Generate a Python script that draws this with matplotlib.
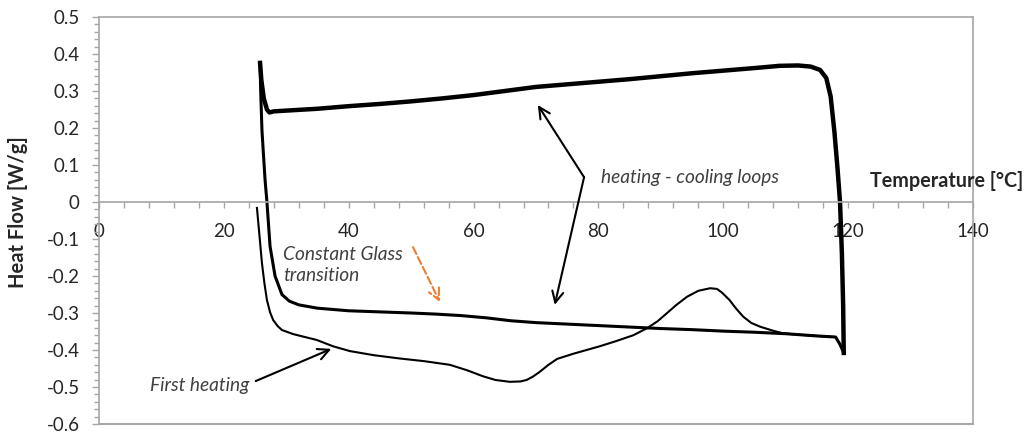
import matplotlib.pyplot as plt
from matplotlib.ticker import MultipleLocator, FuncFormatter

plt.rcParams['font.family'] = ['Lato', 'DejaVu Sans']
plt.rcParams['axes.unicode_minus'] = False

# heating-cooling loop, upper branch (spike at start, drop at ~119 C)
upper_x = [25.8, 26.0, 26.4, 26.9, 27.3, 28.0, 30, 35, 40, 45, 50, 55, 60, 65,
           70, 75, 80, 85, 90, 95, 100, 105, 109, 112, 114, 115.5, 116.5,
           117.2, 117.8, 118.3, 118.7, 119.0, 119.2, 119.3]
upper_y = [0.376, 0.33, 0.28, 0.250, 0.242, 0.245, 0.247, 0.252, 0.259, 0.265,
           0.272, 0.280, 0.289, 0.300, 0.311, 0.318, 0.325, 0.332, 0.340, 0.348,
           0.355, 0.362, 0.368, 0.369, 0.366, 0.357, 0.335, 0.285, 0.19, 0.09,
           0.0, -0.14, -0.28, -0.408]

# heating-cooling loop, lower branch (back to the start)
lower_x = [119.3, 118.7, 118.0, 115, 110, 105, 100, 95, 90, 85, 80, 75, 70, 66,
           62, 58, 54, 50, 45, 40, 35, 32, 30.5, 29.3, 28.2, 27.4, 26.9, 26.6,
           26.3, 26.1, 25.9, 25.8]
lower_y = [-0.408, -0.385, -0.365, -0.362, -0.356, -0.352, -0.349, -0.345,
           -0.342, -0.338, -0.334, -0.330, -0.326, -0.321, -0.313, -0.307,
           -0.303, -0.300, -0.297, -0.294, -0.287, -0.278, -0.268, -0.25, -0.20,
           -0.12, 0.0, 0.06, 0.14, 0.195, 0.30, 0.376]

# first heating
first_x = [25.3, 25.7, 26.1, 26.5, 26.9, 27.4, 27.9, 28.6, 29.3, 31.1, 34.9,
           37.5, 40.2, 44, 48.2, 52, 56.2, 59, 61.5, 63.5, 65.8, 67.5, 68.5,
           69.5, 70.6, 72, 73.4, 76, 80.2, 83, 85.6, 87.8, 89.5, 91, 92.5, 94.2,
           96, 97.9, 99, 99.8, 101, 102, 103.2, 104.5, 105.9, 108, 109.6, 112.3,
           115, 117.9]
first_y = [-0.016, -0.09, -0.165, -0.22, -0.265, -0.298, -0.319, -0.335, -0.346,
           -0.357, -0.373, -0.39, -0.403, -0.414, -0.423, -0.43, -0.44, -0.455,
           -0.471, -0.481, -0.486, -0.485, -0.481, -0.472, -0.459, -0.44,
           -0.424, -0.41, -0.39, -0.375, -0.36, -0.341, -0.322, -0.30, -0.278,
           -0.256, -0.24, -0.233, -0.235, -0.245, -0.265, -0.287, -0.31,
           -0.327, -0.337, -0.348, -0.355, -0.359, -0.362, -0.365]

grey = '#A6A6A6'
txt = '#262626'

fig = plt.figure(figsize=(10.3, 4.41), dpi=100)
ax = fig.add_axes([99 / 1030, 1 - 424 / 441, 874 / 1030, 407 / 441])

ax.plot(upper_x, upper_y, color='black', lw=3.2, solid_joinstyle='round')
ax.plot(lower_x, lower_y, color='black', lw=2.2, solid_joinstyle='round')
ax.plot(first_x, first_y, color='black', lw=1.5, solid_joinstyle='round')

ax.set_xlim(0, 140)
ax.set_ylim(-0.6, 0.5)

# x axis crosses at zero, plot area keeps a grey frame
ax.spines['bottom'].set_position(('data', 0))
for s in ax.spines.values():
    s.set_color(grey)
    s.set_linewidth(1.2)
ax.plot([0, 1], [0, 0], transform=ax.transAxes, color=grey, lw=1.5, clip_on=False)

ax.xaxis.set_major_locator(MultipleLocator(20))
ax.xaxis.set_minor_locator(MultipleLocator(4))
ax.yaxis.set_major_locator(MultipleLocator(0.1))
ax.yaxis.set_minor_locator(MultipleLocator(0.02))
ax.yaxis.set_major_formatter(FuncFormatter(lambda v, p: '%g' % round(v, 2)))

ax.tick_params(axis='x', which='both', direction='out', length=4.3, width=1,
               color=grey, labelsize=13.5, labelcolor=txt, pad=11)
ax.tick_params(axis='y', which='major', direction='out', length=5, width=1,
               color=grey, labelsize=13.5, labelcolor=txt, pad=9)
ax.tick_params(axis='y', which='minor', direction='out', length=3.5, width=1,
               color=grey)

fig.text(18 / 1030, 1 - 212 / 441, 'Heat Flow [W/g]', rotation=90, ha='center',
         va='center', fontsize=14.5, fontweight='bold', color=txt)
fig.text(870 / 1030, 1 - 181 / 441, 'Temperature [°C]', ha='left', va='center',
         fontsize=14.2, fontweight='bold', color=txt)

note = '#404040'
ax.text(80.4, 0.065, 'heating - cooling loops', style='italic', fontsize=13.8,
        color=note, ha='left', va='center')
ax.text(29.5, -0.17, 'Constant Glass\ntransition', style='italic', fontsize=13.8,
        color=note, ha='left', va='center', linespacing=1.25)
ax.text(8.2, -0.497, 'First heating', style='italic', fontsize=13.8,
        color=note, ha='left', va='center')

arrow = dict(arrowstyle='->', lw=1.5, color='black', mutation_scale=20,
             shrinkA=0, shrinkB=0)
ax.annotate('', xy=(70.3, 0.262), xytext=(77.7, 0.067), arrowprops=arrow)
ax.annotate('', xy=(73.0, -0.278), xytext=(77.7, 0.067), arrowprops=arrow)
ax.annotate('', xy=(37.2, -0.397), xytext=(25.1, -0.484), arrowprops=arrow)
ax.annotate('', xy=(54.6, -0.270), xytext=(50.3, -0.122),
            arrowprops=dict(arrowstyle='->', lw=1.5, color='#ED7D31',
                            linestyle='--', mutation_scale=20,
                            shrinkA=0, shrinkB=0))

fig.savefig('out.png', dpi=100)
